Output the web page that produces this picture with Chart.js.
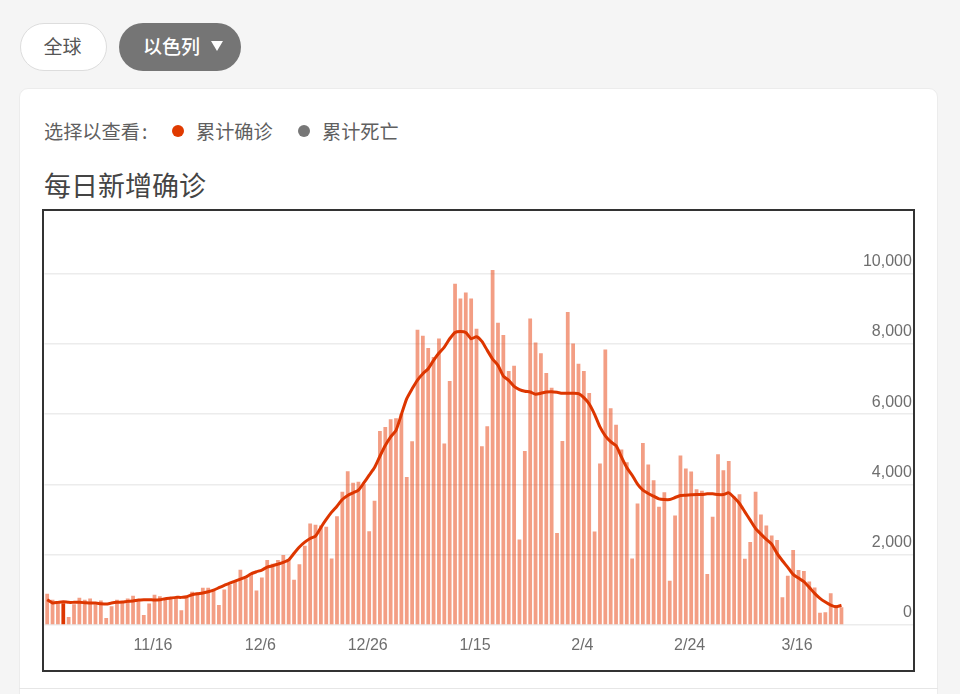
<!DOCTYPE html>
<html lang="zh">
<head>
<meta charset="utf-8">
<title>每日新增确诊</title>
<script src="https://cdn.jsdelivr.net/npm/chart.js@4"></script>
<style>
  html, body { margin: 0; padding: 0; }
  body {
    width: 960px; height: 694px; overflow: hidden; position: relative;
    background: #f5f5f5; color: #555;
    font-family: "Noto Sans CJK SC", "Noto Sans", sans-serif;
  }
  .abs { position: absolute; white-space: nowrap; }
  .pill { box-sizing: border-box; border-radius: 24px; height: 48px; line-height: 44px; font-size: 19px; }
  #btnWorld { left: 20px; top: 23px; width: 87px; padding-right: 2px; background: #fff; border: 1px solid #ddd; text-align: center; color: #555; }
  #btnCountry { left: 119px; top: 23px; width: 122px; background: #757575; color: #fff; padding-left: 24px; line-height: 46px; font-weight: 500; }
  #caret { left: 211px; top: 41px; width: 0; height: 0; border-left: 6px solid transparent; border-right: 6px solid transparent; border-top: 10px solid #fff; }
  #card { left: 19px; top: 88px; width: 919px; height: 640px; box-sizing: border-box; background: #fff; border: 1px solid #ececec; border-radius: 9px; }
  #cardLine { left: 19px; top: 688px; width: 919px; height: 1px; background: #e6e6e6; }
  .opt { font-size: 19.2px; line-height: 26px; top: 118px; color: #5f5f5f; }
  .dot { width: 12px; height: 12px; border-radius: 50%; top: 125px; }
  #heading { left: 44px; top: 166px; font-size: 27px; line-height: 38px; color: #444; }
  #plot { left: 42.6px; top: 211px; width: 872.4px; height: 459px; }
  #frame { left: 42px; top: 209px; width: 873px; height: 463px; box-sizing: border-box; border: 2px solid #333; pointer-events: none; }
</style>
</head>
<body>
<div class="abs pill" id="btnWorld">全球</div>
<div class="abs pill" id="btnCountry">以色列</div>
<div class="abs" id="caret"></div>
<div class="abs" id="card"></div>
<div class="abs" id="cardLine"></div>
<div class="abs opt" style="left:44px">选择以查看<span style="margin-left:2px">:</span></div>
<div class="abs dot" style="left:172px;background:#e03a00"></div>
<div class="abs opt" style="left:196px">累计确诊</div>
<div class="abs dot" style="left:298px;background:#777"></div>
<div class="abs opt" style="left:322px">累计死亡</div>
<div class="abs" id="heading">每日新增确诊</div>
<div class="abs" id="plot"><canvas id="chart"></canvas></div>
<div class="abs" id="frame"></div>

<script>
var days = [
  "10/27","10/28","10/29","10/30","10/31",
  "11/1","11/2","11/3","11/4","11/5","11/6","11/7","11/8","11/9","11/10","11/11","11/12","11/13","11/14","11/15",
  "11/16","11/17","11/18","11/19","11/20","11/21","11/22","11/23","11/24","11/25","11/26","11/27","11/28","11/29","11/30",
  "12/1","12/2","12/3","12/4","12/5","12/6","12/7","12/8","12/9","12/10","12/11","12/12","12/13","12/14","12/15",
  "12/16","12/17","12/18","12/19","12/20","12/21","12/22","12/23","12/24","12/25","12/26","12/27","12/28","12/29","12/30","12/31",
  "1/1","1/2","1/3","1/4","1/5","1/6","1/7","1/8","1/9","1/10","1/11","1/12","1/13","1/14","1/15",
  "1/16","1/17","1/18","1/19","1/20","1/21","1/22","1/23","1/24","1/25","1/26","1/27","1/28","1/29","1/30","1/31",
  "2/1","2/2","2/3","2/4","2/5","2/6","2/7","2/8","2/9","2/10","2/11","2/12","2/13","2/14","2/15",
  "2/16","2/17","2/18","2/19","2/20","2/21","2/22","2/23","2/24","2/25","2/26","2/27","2/28",
  "3/1","3/2","3/3","3/4","3/5","3/6","3/7","3/8","3/9","3/10","3/11","3/12","3/13","3/14","3/15",
  "3/16","3/17","3/18","3/19","3/20","3/21","3/22","3/23","3/24"
];
var xTickLabels = ["11/16","12/6","12/26","1/15","2/4","2/24","3/16"];
var yTickValues = [0, 2000, 4000, 6000, 8000, 10000];

var dailyCases = [
  890,720,650,620,227,590,775,720,757,590,
  700,200,530,720,680,757,833,680,284,615,
  860,815,775,775,795,417,775,947,928,1060,
  1060,985,568,1013,1155,1230,1570,1325,1440,985,
  1354,1846,1742,1846,1990,1850,1290,1730,2254,2888,
  2850,2831,2794,1894,3097,3788,4375,4044,4072,4006,
  2670,3532,5521,5635,5852,5880,6013,4214,5227,8400,
  8230,7880,7623,8154,5161,6941,9707,9290,9460,9290,
  8428,5085,5654,10100,8600,8250,7225,7377,2434,4953,
  8722,8040,7728,7169,6752,2614,5237,8902,8012,7434,
  7225,6600,2661,4593,7841,6165,5700,4990,4630,1894,
  3457,5180,4565,4120,3362,3778,1260,3115,4820,4450,
  4366,3864,3816,1449,3078,4858,4404,4669,3646,3722,
  1885,2358,3788,3144,2832,2547,2415,786,1402,2131,
  1563,1534,1240,1070,350,360,900,568,502
];

var rollingAvg = [
  720,625,644,663,644,644,644,635,625,625,
  606,596,625,644,653,672,682,710,720,720,
  710,720,748,767,786,786,805,862,890,909,
  947,994,1060,1127,1193,1250,1307,1364,1458,1515,
  1563,1648,1686,1733,1780,1850,2040,2220,2358,2462,
  2528,2775,3002,3210,3381,3570,3684,3760,3835,4044,
  4261,4479,4801,5104,5350,5540,5990,6440,6720,6970,
  7150,7292,7529,7737,7907,8144,8324,8352,8324,8144,
  8201,8068,7813,7566,7387,7083,6960,6790,6695,6648,
  6629,6563,6591,6629,6638,6619,6591,6591,6591,6581,
  6468,6288,5994,5635,5380,5215,5100,4782,4479,4262,
  4006,3835,3741,3665,3589,3570,3570,3627,3684,3693,
  3703,3712,3712,3731,3731,3712,3712,3760,3627,3457,
  3220,2983,2746,2585,2434,2301,2036,1828,1638,1439,
  1335,1231,1070,900,758,653,568,521,560
];

// empty days to the right of the last bar, room for the y labels
var trailingBlanks = ["","","","","","","","","","","","",""];

var BAR_COLOR = "rgba(232, 62, 10, 0.5)";
var LINE_COLOR = "#dd3600";
var SPIKE_DAY = "10/30"; // the odd solid stroke at the start of the chart

var labels = days.concat(trailingBlanks);

new Chart(document.getElementById("chart"), {
  data: {
    labels: labels,
    datasets: [
      {
        type: "line",
        label: "7日平均",
        data: rollingAvg,
        borderColor: LINE_COLOR,
        borderWidth: 3,
        pointRadius: 0,
        tension: 0.2,
        order: 0
      },
      {
        type: "bar",
        label: "每日新增确诊",
        data: dailyCases,
        backgroundColor: days.map(function (d) { return d === SPIKE_DAY ? LINE_COLOR : BAR_COLOR; }),
        barPercentage: 0.7,
        categoryPercentage: 1,
        order: 1
      }
    ]
  },
  options: {
    responsive: true,
    maintainAspectRatio: false,
    animation: false,
    locale: "en-US",
    plugins: { legend: { display: false }, tooltip: { enabled: false } },
    layout: { padding: 0 },
    scales: {
      x: {
        // ticks.padding also widens the plot sideways, so the gap comes from tickLength
        grid: { display: false, drawTicks: true, tickLength: 11 },
        border: { display: false },
        afterFit: function (scale) { scale.height = 45; },
        ticks: {
          autoSkip: false,
          maxRotation: 0,
          padding: 0,
          labelOffset: -1.5,
          color: "#6e6e6e",
          font: { family: "Liberation Sans", size: 16 },
          callback: function (value, index) {
            var l = labels[index];
            return xTickLabels.indexOf(l) >= 0 ? l : "";
          }
        }
      },
      y: {
        position: "right",
        min: 0,
        max: 11562,
        afterFit: function (scale) { scale.width = 0; },
        afterBuildTicks: function (scale) {
          scale.ticks = yTickValues.map(function (v) { return { value: v }; });
        },
        grid: { color: "#ececec", lineWidth: 1.5, drawTicks: false },
        border: { display: false },
        ticks: {
          mirror: true,
          padding: -2, // pulls the mirrored labels back inside the plot edge
          labelOffset: -12,
          color: "#6e6e6e",
          font: { family: "Liberation Sans", size: 16 }
        }
      }
    }
  }
});
</script>
</body>
</html>
